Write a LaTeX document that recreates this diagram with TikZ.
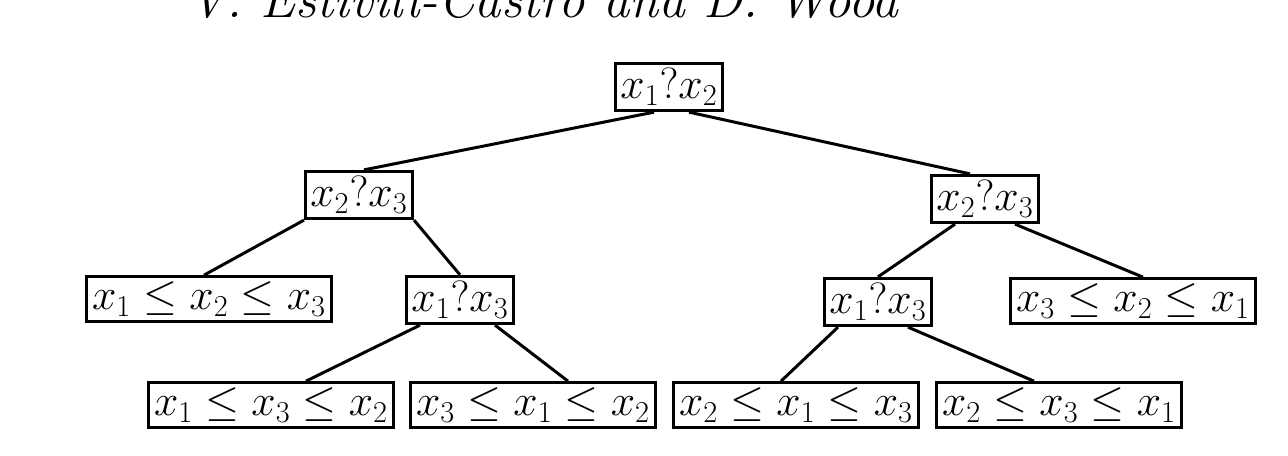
\documentclass[tikz,border=0pt]{standalone}
\begin{document}
\begin{tikzpicture}[x=0.02cm,y=-0.02cm,
  bx/.style={draw,line width=1.6pt,inner sep=3pt,font=\fontsize{24}{28}\selectfont},
  ln/.style={line width=1.7pt}]
\useasboundingbox (0,0) rectangle (1288,456);
\clip (0,0) rectangle (1288,456);
\node[anchor=base west,font=\fontsize{30}{34}\selectfont\itshape] (hdr) at (182,18) {V. Estivill-Castro and D. Wood};
\node[bx] (r) at (669,87) {$x_1?x_2$};
\node[bx] (L) at (359,195) {$x_2?x_3$};
\node[bx] (R) at (985,199) {$x_2?x_3$};
\node[bx] (LL) at (209,299) {$x_1\le x_2\le x_3$};
\node[bx] (LR) at (460,300) {$x_1?x_3$};
\node[bx] (RL) at (878,302) {$x_1?x_3$};
\node[bx] (RR) at (1133,301) {$x_3\le x_2\le x_1$};
\node[bx] (a) at (271,405) {$x_1\le x_3\le x_2$};
\node[bx] (b) at (533,405) {$x_3\le x_1\le x_2$};
\node[bx] (c) at (796,405) {$x_2\le x_1\le x_3$};
\node[bx] (d) at (1059,405) {$x_2\le x_3\le x_1$};
\draw[ln] ([xshift=-0.3cm]r.south) -- ([xshift=0.1cm]L.north);
\draw[ln] ([xshift=0.4cm]r.south) -- ([xshift=-0.3cm]R.north);
\draw[ln] ([xshift=-1.1cm]L.south) -- ([xshift=-0.1cm]LL.north);
\draw[ln] ([xshift=1.1cm]L.south) -- (LR.north);
\draw[ln] ([xshift=-0.8cm]LR.south) -- ([xshift=0.7cm]a.north);
\draw[ln] ([xshift=0.7cm]LR.south) -- ([xshift=0.7cm]b.north);
\draw[ln] ([xshift=-0.6cm]R.south) -- (RL.north);
\draw[ln] ([xshift=0.6cm]R.south) -- ([xshift=0.2cm]RR.north);
\draw[ln] ([xshift=-0.8cm]RL.south) -- ([xshift=-0.3cm]c.north);
\draw[ln] ([xshift=0.6cm]RL.south) -- ([xshift=-0.5cm]d.north);
\end{tikzpicture}
\end{document}
